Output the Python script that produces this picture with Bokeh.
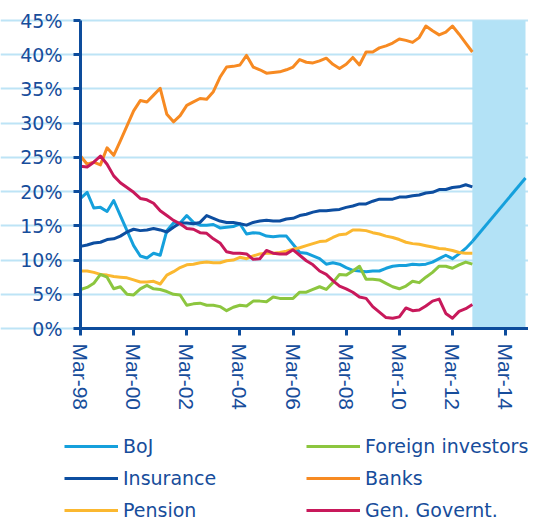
from bokeh.plotting import figure
from bokeh.models import Range1d, FixedTicker, Legend, LegendItem
from bokeh.embed import file_html
from bokeh.resources import INLINE

# quarterly index: 0 = Mar-98 ... 59 = Dec-12 ; 67 = Dec-14
boj = [19.0, 19.9, 17.6, 17.7, 17.1, 18.7, 16.5, 14.3, 12.1, 10.6,
       10.3, 11.0, 10.7, 14.3, 15.4, 15.4, 16.5, 15.5, 15.1, 15.1,
       15.2, 14.7, 14.8, 14.9, 15.3, 13.8, 14.0, 13.9, 13.5, 13.4,
       13.5, 13.5, 12.3, 11.1, 11.0, 10.6, 10.2, 9.4, 9.6, 9.4,
       8.9, 8.5, 8.4, 8.3, 8.4, 8.4, 8.8, 9.1, 9.2, 9.2,
       9.4, 9.3, 9.4, 9.7, 10.2, 10.7, 10.2, 10.9, 11.7, 12.7]
boj_projection_q = [59, 67]
boj_projection = [12.7, 22.0]

insurance = [12.0, 12.2, 12.5, 12.6, 13.0, 13.1, 13.5, 14.1, 14.5, 14.3,
             14.4, 14.6, 14.4, 14.1, 14.8, 15.4, 15.4, 15.3, 15.5, 16.5,
             16.1, 15.7, 15.5, 15.5, 15.3, 15.1, 15.5, 15.7, 15.8, 15.7,
             15.7, 16.0, 16.1, 16.5, 16.7, 17.0, 17.2, 17.2, 17.3, 17.4,
             17.7, 17.9, 18.2, 18.2, 18.6, 18.9, 18.9, 18.9, 19.2, 19.2,
             19.4, 19.5, 19.8, 19.9, 20.3, 20.3, 20.6, 20.7, 21.0, 20.7]

pension = [8.4, 8.4, 8.2, 7.9, 7.8, 7.6, 7.5, 7.4, 7.1, 6.8,
           6.8, 6.9, 6.5, 7.8, 8.3, 8.9, 9.3, 9.4, 9.6, 9.7,
           9.6, 9.6, 9.9, 10.0, 10.4, 10.2, 10.6, 10.9, 11.0, 11.0,
           11.1, 11.3, 11.6, 11.8, 12.1, 12.4, 12.7, 12.8, 13.3, 13.7,
           13.8, 14.4, 14.4, 14.3, 14.0, 13.8, 13.5, 13.3, 13.0, 12.6,
           12.4, 12.3, 12.1, 11.9, 11.7, 11.6, 11.4, 11.1, 11.0, 11.0]

foreign = [5.7, 6.0, 6.6, 7.9, 7.5, 5.8, 6.1, 5.0, 4.9, 5.8,
           6.3, 5.8, 5.7, 5.4, 5.0, 4.9, 3.4, 3.6, 3.7, 3.4,
           3.4, 3.2, 2.6, 3.1, 3.4, 3.3, 4.0, 4.0, 3.9, 4.6,
           4.4, 4.4, 4.4, 5.3, 5.3, 5.7, 6.1, 5.7, 6.7, 7.9,
           7.8, 8.4, 9.1, 7.2, 7.2, 7.1, 6.6, 6.1, 5.8, 6.2,
           6.9, 6.7, 7.5, 8.2, 9.1, 9.1, 8.8, 9.3, 9.7, 9.4]

banks = [25.2, 24.0, 24.3, 23.9, 26.4, 25.3, 27.4, 29.6, 31.8, 33.3,
         33.1, 34.1, 35.1, 31.3, 30.2, 31.1, 32.6, 33.1, 33.6, 33.5,
         34.6, 36.7, 38.2, 38.3, 38.5, 39.9, 38.2, 37.8, 37.3, 37.4,
         37.5, 37.8, 38.2, 39.3, 38.9, 38.8, 39.1, 39.5, 38.6, 38.0,
         38.6, 39.6, 38.5, 40.4, 40.4, 41.0, 41.3, 41.7, 42.3, 42.1,
         41.8, 42.5, 44.2, 43.5, 42.9, 43.3, 44.2, 43.0, 41.7, 40.4]

gen_gov = [23.7, 23.6, 24.3, 25.2, 24.0, 22.3, 21.3, 20.6, 19.9, 19.0,
           18.8, 18.3, 17.2, 16.5, 15.8, 15.3, 14.6, 14.5, 14.0, 13.9,
           13.1, 12.5, 11.2, 11.0, 11.0, 10.9, 10.1, 10.2, 11.4, 11.0,
           10.9, 10.9, 11.5, 10.7, 9.9, 9.3, 8.4, 7.9, 7.0, 6.2,
           5.8, 5.3, 4.6, 4.4, 3.2, 2.4, 1.6, 1.5, 1.7, 3.0,
           2.6, 2.7, 3.3, 4.0, 4.3, 2.2, 1.5, 2.5, 2.9, 3.5]

quarters = list(range(len(boj)))
forecast_start, forecast_end = 59, 67
tick_q = [0, 8, 16, 24, 32, 40, 48, 56, 64]
tick_labels = ["Mar-98", "Mar-00", "Mar-02", "Mar-04", "Mar-06",
               "Mar-08", "Mar-10", "Mar-12", "Mar-14"]
y_ticks = [0, 5, 10, 15, 20, 25, 30, 35, 40, 45]
y_max = 45

series_names = ["BoJ", "Insurance", "Pension",
                "Foreign investors", "Banks", "Gen. Governt."]
series_colors = ["#15a0dc", "#0d4ea0", "#fbb830",
                 "#8cc63f", "#f78a22", "#c8195b"]
series_values = [boj, insurance, pension, foreign, banks, gen_gov]

AXIS = "#0d4c9c"
TEXT = "#174d9b"

# ---- layout (pixels) ----
W, H = 528, 521
plot_left, plot_right, plot_top, plot_bottom = 80, 525, 20, 328
px_x = (plot_right - plot_left) / forecast_end
px_y = (plot_bottom - plot_top) / y_max
x_rng = Range1d(-plot_left / px_x, forecast_end + (W - plot_right) / px_x)
y_rng = Range1d(-(H - plot_bottom) / px_y, y_max + plot_top / px_y)

p = figure(width=W, height=H, x_range=x_rng, y_range=y_rng,
           output_backend="svg", toolbar_location=None, min_border=0)
p.outline_line_color = None
p.background_fill_color = "white"
p.border_fill_color = "white"

p.xgrid.visible = False
p.ygrid.ticker = FixedTicker(ticks=y_ticks)
p.ygrid.bounds = (0, x_rng.end)
p.ygrid.grid_line_color = "#bde4f6"
p.ygrid.grid_line_width = 2

p.quad(left=[forecast_start], right=[forecast_end], bottom=[0], top=[y_max],
       fill_color="#b3e2f6", line_color=None)

lw = 3
p.line(boj_projection_q, boj_projection, line_color=series_colors[0], line_width=lw)
renderers = []
for vals, col in zip(series_values, series_colors):
    renderers.append(p.line(quarters, vals, line_color=col, line_width=lw,
                            line_join="round"))

for ax in (p.xaxis[0], p.yaxis[0]):
    ax.fixed_location = 0
    ax.axis_line_color = AXIS
    ax.axis_line_width = 3
    ax.major_tick_line_color = AXIS
    ax.major_tick_line_width = 3
    ax.major_tick_out = 7
    ax.major_tick_in = 0
    ax.minor_tick_line_color = None
    ax.major_label_text_color = TEXT

p.yaxis.bounds = (0, y_max)
p.yaxis.ticker = FixedTicker(ticks=y_ticks)
p.yaxis.major_label_overrides = {v: f"{v}%" for v in y_ticks}
p.yaxis.major_label_text_font = "DejaVu Sans"
p.yaxis.major_label_text_font_size = "19px"
p.yaxis.major_label_standoff = 11

p.xaxis.bounds = (0, x_rng.end)
p.xaxis.ticker = FixedTicker(ticks=tick_q)
p.xaxis.major_label_overrides = dict(zip(tick_q, tick_labels))
p.xaxis.major_label_orientation = "vertical"
p.xaxis.major_label_text_font = "Liberation Sans"
p.xaxis.major_label_text_font_size = "21px"
p.xaxis.major_label_standoff = 8

items = [LegendItem(label=n, renderers=[r]) for n, r in zip(series_names, renderers)]
legend = Legend(items=items, ncols=2, location=(64, 0))
legend.orientation = "vertical"
legend.border_line_color = None
legend.background_fill_alpha = 0
legend.padding = 0
legend.margin = 0
legend.spacing = 10
legend.glyph_width = 54
legend.glyph_height = 22
legend.label_height = 22
legend.label_width = 173
legend.label_standoff = 5
legend.label_text_font = "DejaVu Sans"
legend.label_text_font_size = "19px"
legend.label_text_color = TEXT
p.add_layout(legend)

open("out.html", "w").write(file_html(p, INLINE))
